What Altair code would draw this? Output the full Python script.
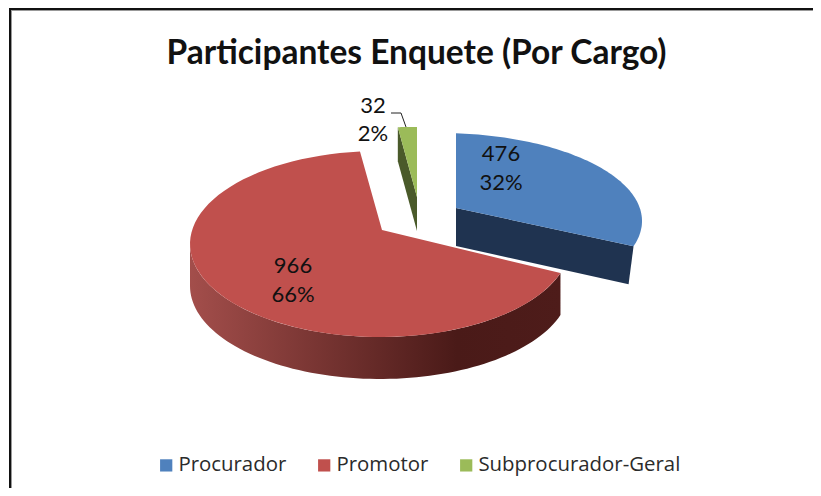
import math
import altair as alt
import pandas as pd

categories = ["Procurador", "Promotor", "Subprocurador-Geral"]
values = [476, 966, 32]
colors = ["#4F81BD", "#C0504D", "#9BBB59"]
title_text = "Participantes Enquete (Por Cargo)"

FONT = "Lato"
total = sum(values)
shares = [v / total for v in values]
bounds = [0]
for s in shares:
    bounds.append(bounds[-1] + s * 360)

# perspective: slice -> (apex x, apex y, ellipse cx, cy, rx, ry, wall depth)
geom = {
    "Procurador": (456, 208, 440, 221, 202, 88, 38),
    "Promotor": (382, 230, 380, 244, 190, 93, 42),
    "Subprocurador-Geral": (417, 197, 410, 222, 190, 95, 34),
}


def rim_param(theta, g):
    ax, ay, cx, cy, rx, ry, _ = g
    dx, dy = math.sin(math.radians(theta)) * rx, -math.cos(math.radians(theta)) * ry
    a = (dx / rx) ** 2 + (dy / ry) ** 2
    ox, oy = (ax - cx) / rx, (ay - cy) / ry
    b = 2 * (dx / rx * ox + dy / ry * oy)
    c = ox * ox + oy * oy - 1
    s = (-b + math.sqrt(b * b - 4 * a * c)) / (2 * a)
    px, py = ax + dx * s, ay + dy * s
    t = math.degrees(math.atan2((px - cx) / rx, -(py - cy) / ry))
    return t % 360 if theta > 1 else t


def rim(t, g):
    _, _, cx, cy, rx, ry, _ = g
    return cx + rx * math.sin(math.radians(t)), cy - ry * math.cos(math.radians(t))


def arc_points(t0, t1, g, n=80):
    return [rim(t0 + (t1 - t0) * i / n, g) for i in range(n + 1)]


def frame(points):
    return pd.DataFrame({"x": [p[0] for p in points], "y": [p[1] for p in points], "i": range(len(points))})


xs = alt.X("x:Q", axis=None, scale=alt.Scale(domain=[8, 813], range=[0, 805], zero=False, nice=False))
ys = alt.Y("y:Q", axis=None, scale=alt.Scale(domain=[8, 488], range=[0, 480], zero=False, nice=False))


def poly(points, **kw):
    return alt.Chart(frame(points)).mark_line(strokeWidth=0, **kw).encode(x=xs, y=ys, order="i:Q")


def top(k):
    name = categories[k]
    g = geom[name]
    t0, t1 = rim_param(bounds[k], g), rim_param(bounds[k + 1], g)
    if t1 < t0:
        t1 += 360
    pts = [(g[0], g[1])] + arc_points(t0, t1, g) + [(g[0], g[1])]
    df = frame(pts)
    df["name"] = name
    return (
        alt.Chart(df)
        .mark_line(strokeWidth=0, filled=True)
        .encode(
            x=xs, y=ys, order="i:Q",
            fill=alt.Fill(
                "name:N",
                scale=alt.Scale(domain=categories, range=colors),
                legend=alt.Legend(
                    title=None, orient="none", legendX=148, legendY=447, direction="horizontal",
                    columns=3, columnPadding=27, symbolType="square", symbolSize=150,
                    symbolStrokeWidth=0, labelFont="Open Sans", labelFontSize=20.4, labelLimit=400,
                    labelColor="#2b2b2b", labelOffset=2, gridAlign="each",
                ),
            ),
        ), t0, t1, g
    )


blue, bt0, bt1, bg = top(0)
red, rt0, rt1, rg = top(1)
green, gt0, gt1, gg = top(2)

# walls
d = rg[6]
edge = arc_points(rt0, 270, rg)
red_wall = poly(
    edge + [(x, y + d) for x, y in reversed(edge)] + [edge[0]],
    fill=alt.Gradient(
        gradient="linear", x1=0, x2=1, y1=0, y2=0,
        stops=[
            alt.GradientStop(offset=0, color="#A34E4B"),
            alt.GradientStop(offset=0.72, color="#4A1A18"),
            alt.GradientStop(offset=1, color="#4E1C1A"),
        ],
    ),
)

bx, by = rim(bt1, bg)
d = bg[6]
blue_wall = poly(
    [(bg[0], bg[1]), (bx, by), (bx - 5, by + d), (bg[0], bg[1] + d), (bg[0], bg[1])],
    fill="#1F3350",
)

gx, gy = rim(gt0, gg)
d = gg[6]
green_wall = poly(
    [(gx, gy), (gg[0], gg[1]), (gg[0], gg[1] + d), (gx, gy + d), (gx, gy)],
    fill="#4A5A2A",
)

# data labels
lab_pos = {"Procurador": (501, 154, 183), "Promotor": (293, 266, 295), "Subprocurador-Geral": (373, 106, 134)}
rows = []
for c, v, s in zip(categories, values, shares):
    x0, y1, y2 = lab_pos[c]
    rows.append({"x": x0, "y": y1, "t": str(v)})
    rows.append({"x": x0, "y": y2, "t": f"{round(s * 100)}%"})
labels = alt.Chart(pd.DataFrame(rows)).mark_text(font=FONT, fontSize=22, color="#111111").encode(x=xs, y=ys, text="t:N")

leader = alt.Chart(frame([(391, 113), (401, 113), (406, 127)])).mark_line(color="#222222", strokeWidth=1).encode(
    x=xs, y=ys, order="i:Q"
)

top_line = alt.Chart(frame([(9, 9), (813, 9)])).mark_line(color="#111111", strokeWidth=2).encode(x=xs, y=ys, order="i:Q")
top_line2 = alt.Chart(frame([(11, 10.5), (813, 10.5)])).mark_line(color="#999999", strokeWidth=1).encode(x=xs, y=ys, order="i:Q")
left_line = alt.Chart(frame([(10, 8), (10, 488)])).mark_line(color="#111111", strokeWidth=2).encode(x=xs, y=ys, order="i:Q")
left_line2 = alt.Chart(frame([(11.5, 10), (11.5, 488)])).mark_line(color="#999999", strokeWidth=1).encode(x=xs, y=ys, order="i:Q")

chart = (
    alt.layer(top_line, top_line2, left_line, left_line2, red_wall, red, green_wall, green, blue_wall, blue, leader, labels)
    .properties(
        width=805, height=480, padding=0,
        autosize=alt.AutoSizeParams(type="none"),
        title=alt.TitleParams(
            title_text, anchor="middle", frame="group", font=FONT, fontSize=33.5, fontWeight="bold",
            color="#111111", dy=71, dx=6,
        ),
    )
    .configure_view(stroke=None)
)
chart.save("out.html", embed_options={"renderer": "svg", "actions": False})
